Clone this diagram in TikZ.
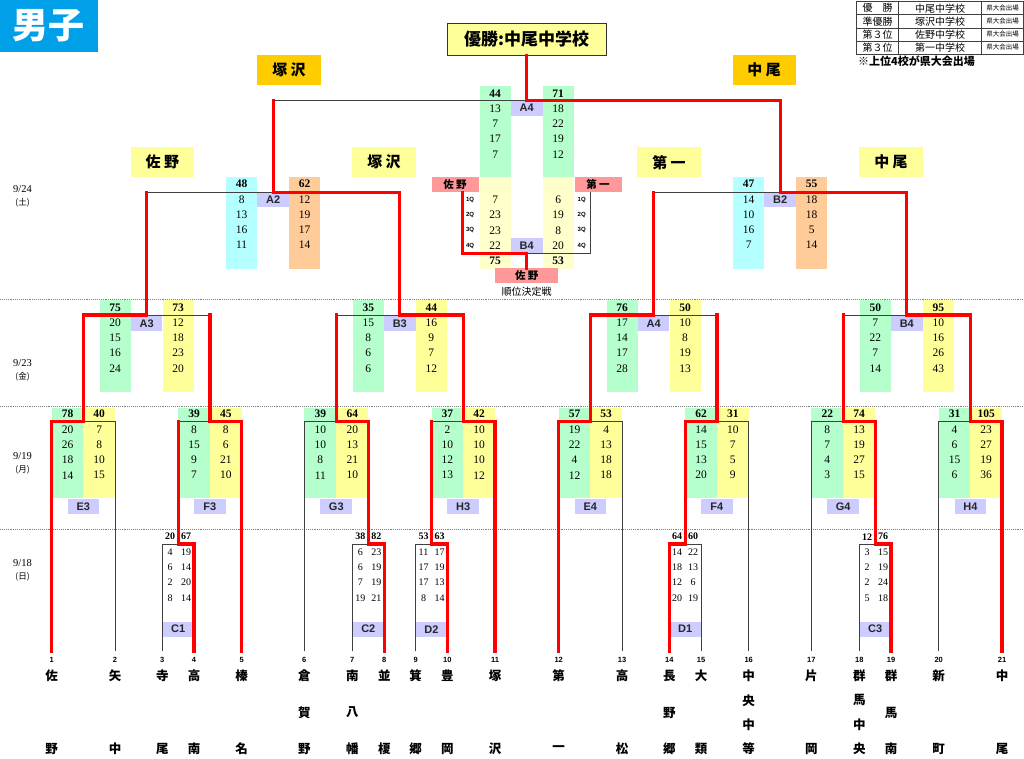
\documentclass[tikz,border=0pt]{standalone}
\usepackage{fontspec}
\setmainfont{Liberation Serif}
\newfontfamily\jpfont{Noto Sans CJK JP}
\newfontfamily\lbfont{Liberation Sans}
\usetikzlibrary{calc}

\definecolor{gcol}{RGB}{180,255,204}
\definecolor{ycol}{RGB}{255,255,153}
\definecolor{ccol}{RGB}{180,255,255}
\definecolor{ocol}{RGB}{255,204,153}
\definecolor{pcol}{RGB}{255,255,204}
\definecolor{labc}{RGB}{204,204,255}
\definecolor{goldc}{RGB}{255,204,0}
\definecolor{pinkc}{RGB}{255,153,153}
\definecolor{titlec}{RGB}{0,160,233}

\tikzset{
  win/.style={red, line width=3.2pt, line cap=rect},
  lose/.style={black!75, line width=0.9pt},
  sep/.style={gray, densely dotted, line width=0.9pt},
  num/.style={inner sep=0pt, font=\fontsize{11.5}{12}\selectfont},
  tot/.style={inner sep=0pt, font=\fontsize{11.5}{12}\selectfont\bfseries},
  lab/.style={fill=labc, minimum width=31.7pt, minimum height=15pt, inner sep=0pt,
    text=black!85, font=\lbfont\bfseries\fontsize{11}{12}\selectfont},
  school/.style={fill=ycol, minimum width=63.3pt, minimum height=30pt, inner sep=0pt,
    font=\jpfont\bfseries\fontsize{15}{16}\selectfont},
  finbox/.style={school, fill=goldc},
  thirdbox/.style={fill=pinkc, minimum width=47pt, minimum height=15pt, inner sep=0pt,
    font=\jpfont\bfseries\fontsize{10.5}{12}\selectfont},
  tname/.style={inner sep=0pt, font=\jpfont\bfseries\fontsize{12.5}{13}\selectfont},
  tno/.style={inner sep=0pt, font=\lbfont\bfseries\fontsize{7.5}{8}\selectfont},
  datelab/.style={inner sep=0pt, font=\fontsize{10.5}{11}\selectfont},
  wday/.style={inner sep=0pt, font=\jpfont\fontsize{8.5}{9}\selectfont},
  qtr/.style={inner sep=0pt, font=\lbfont\bfseries\fontsize{6}{7}\selectfont},
  legtxt/.style={inner sep=0pt, font=\jpfont\fontsize{10}{11}\selectfont},
}

% totals and quarter scores of one game
\newcommand{\scores}[8]{%
  \node[tot] (#1l) at ({#2},#4) {#5};
  \node[tot] (#1r) at ({#3},#4) {#6};
  \foreach \q [count=\k] in {#7} \node[num] (#1l\k) at ({#2},{#4+15.3*\k}) {\q};
  \foreach \q [count=\k] in {#8} \node[num] (#1r\k) at ({#3},{#4+15.3*\k}) {\q};
}
% 9/19 game: name, x left, x mid, x right, totals, quarters
\newcommand{\pairE}[8]{%
  \fill[gcol] (#2,408.3) rectangle (#3,498.3);
  \fill[ycol] (#3,408.3) rectangle (#4,498.3);
  \scores{#1}{(#2+#3)/2}{(#3+#4)/2}{414}{#5}{#6}{#7}{#8}
  \node[lab] (l#1) at (#3,506.5) {#1};
}
\newcommand{\colsM}[5]{%
  \fill[#4] ({#1-47},#2) rectangle ({#1-16},#3);
  \fill[#5] ({#1+16},#2) rectangle ({#1+47},#3);
}
\newcommand{\pairM}[7]{%
  \scores{#1}{#2-31.5}{#2+31.5}{#3}{#4}{#5}{#6}{#7}
  \node[lab] (l#1) at ({#2},{#3+16}) {#1};
}
\newcommand{\pairC}[6]{%
  \scores{#1}{#2-8}{#2+8}{536.7}{#3}{#4}{#5}{#6}
  \node[lab] (l#1) at ({#2},629.2) {#1};
}

\begin{document}
\begin{tikzpicture}[x=1pt,y=-1pt]
  \useasboundingbox (0,0) rectangle (1024,759);

  % title, legend
  \node[fill=titlec, text=white, minimum width=97.7pt, minimum height=51.7pt, inner sep=0pt,
    font=\jpfont\bfseries\fontsize{36}{36}\selectfont] (ttl) at (48.85,25.85) {男子};
  \draw[lose, line width=0.6pt] (856.7,1.7) rectangle (1023.3,54);
  \foreach \y in {14.8,27.9,41} \draw[lose, line width=0.6pt] (856.7,\y) -- (1023.3,\y);
  \foreach \x in {898.3,981.7} \draw[lose, line width=0.6pt] (\x,1.7) -- (\x,54);
  \foreach \ra/\rb [count=\k] in {優　勝/中尾中学校, 準優勝/塚沢中学校, 第３位/佐野中学校, 第３位/第一中学校}{
    \node[legtxt] (lg\k a) at (877.5,{8.2+13.1*(\k-1)}) {\ra};
    \node[legtxt] (lg\k b) at (940,{8.2+13.1*(\k-1)}) {\rb};
    \node[legtxt, font=\jpfont\fontsize{6.5}{7}\selectfont] (lg\k c) at (1002.5,{8.2+13.1*(\k-1)}) {県大会出場};
  }
  \node[legtxt, anchor=west, font=\jpfont\bfseries\fontsize{11}{12}\selectfont] (note) at (858,61) {※上位4校が県大会出場};

  % rounds
  \foreach \y in {299,406.7,529} \draw[sep] (0,\y) -- (1024,\y);
  \node[datelab] (d24) at (22.5,189) {9/24};
  \node[wday] (w24) at (22.5,202.5) {(土)};
  \node[datelab] (d23) at (22.5,362.7) {9/23};
  \node[wday] (w23) at (22.5,376.7) {(金)};
  \node[datelab] (d19) at (22.5,456) {9/19};
  \node[wday] (w19) at (22.5,470) {(月)};
  \node[datelab] (d18) at (22.5,562.7) {9/18};
  \node[wday] (w18) at (22.5,576.7) {(日)};

  % teams
  \foreach \i/\x/\n/\nm in {1/51.7/2/{佐,野}, 2/115/2/{矢,中}, 3/162.3/2/{寺,尾}, 4/194/2/{高,南},
      5/241.7/2/{榛,名}, 6/304.3/3/{倉,賀,野}, 7/352.3/3/{南,八,幡}, 8/384.3/2/{並,榎},
      9/415.7/2/{箕,郷}, 10/447.3/2/{豊,岡}, 11/495/2/{塚,沢}, 12/558.7/2/{第,一},
      13/622/2/{高,松}, 14/669.3/3/{長,野,郷}, 15/701/2/{大,類}, 16/748.7/4/{中,央,中,等},
      17/811.3/2/{片,岡}, 18/859.3/4/{群,馬,中,央}, 19/891/3/{群,馬,南}, 20/938.7/2/{新,町},
      21/1002/2/{中,尾}}{
    \coordinate (t\i) at (\x,651);
    \node[tno] (no\i) at (\x,659.5) {\i};
    \foreach \c [count=\k] in \nm
      \node[tname] (nm\i-\k) at (\x,{676+73*(\k-1)/(\n-1)}) {\c};
  }

  % game tops
  \coordinate (C1) at (178.15,544);
  \coordinate (C2) at (368.3,544);
  \coordinate (D2) at (431.5,544);
  \coordinate (D1) at (685.15,544);
  \coordinate (C3) at (875.15,544);
  \coordinate (E3) at (83.35,421.7);
  \coordinate (F3) at (209.9,421.7);
  \coordinate (G3) at (336.3,421.7);
  \coordinate (H3) at (463.25,421.7);
  \coordinate (E4) at (590.35,421.7);
  \coordinate (F4) at (716.9,421.7);
  \coordinate (G4) at (843.2,421.7);
  \coordinate (H4) at (970.35,421.7);
  \coordinate (A3) at (146.6,315);
  \coordinate (B3) at (399.8,315);
  \coordinate (A4) at (653.6,315);
  \coordinate (B4) at (906.8,315);
  \coordinate (A2) at (273.2,192.5);
  \coordinate (B2) at (780.2,192.5);
  \coordinate (F) at (526.7,100.7);

  % 9/19
  \pairE{E3}{51.7}{83.35}{115}{78}{40}{20,26,18,14}{7,8,10,15}
  \pairE{F3}{178.15}{209.9}{241.7}{39}{45}{8,15,9,7}{8,6,21,10}
  \pairE{G3}{304.3}{336.3}{368.3}{39}{64}{10,10,8,11}{20,13,21,10}
  \pairE{H3}{431.5}{463.25}{495}{37}{42}{2,10,12,13}{10,10,10,12}
  \pairE{E4}{558.7}{590.35}{622}{57}{53}{19,22,4,12}{4,13,18,18}
  \pairE{F4}{685.15}{716.9}{748.7}{62}{31}{14,15,13,20}{10,7,5,9}
  \pairE{G4}{811.3}{843.2}{875.15}{22}{74}{8,7,4,3}{13,19,27,15}
  \pairE{H4}{938.7}{970.35}{1002}{31}{105}{4,6,15,6}{23,27,19,36}

  % 9/18
  \begin{scope}[num/.style={inner sep=0pt, font=\fontsize{10}{11}\selectfont},
      tot/.style={inner sep=0pt, font=\fontsize{10}{11}\selectfont\bfseries}]
    \pairC{C1}{178.15}{20}{67}{4,6,2,8}{19,14,20,14}
    \pairC{C2}{368.3}{38}{82}{6,6,7,19}{23,19,19,21}
    \pairC{D2}{431.5}{53}{63}{11,17,17,8}{17,19,13,14}
    \pairC{D1}{685.15}{64}{60}{14,18,12,20}{22,13,6,19}
    \pairC{C3}{875.15}{12}{76}{3,2,2,5}{15,19,24,18}
  \end{scope}

  % 9/23, 9/24, final
  \colsM{146.6}{300}{391.7}{gcol}{ycol}
  \colsM{399.8}{300}{391.7}{gcol}{ycol}
  \colsM{653.6}{300}{391.7}{gcol}{ycol}
  \colsM{906.8}{300}{391.7}{gcol}{ycol}
  \colsM{273.2}{177.3}{269.3}{ccol}{ocol}
  \colsM{780.2}{177.3}{269.3}{ccol}{ocol}
  \colsM{526.7}{85.7}{176.7}{gcol}{gcol}
  \colsM{526.7}{176.7}{269.3}{pcol}{pcol}
  \pairM{A3}{146.6}{307.3}{75}{73}{20,15,16,24}{12,18,23,20}
  \pairM{B3}{399.8}{307.3}{35}{44}{15,8,6,6}{16,9,7,12}
  \pairM{A4}{653.6}{307.3}{76}{50}{17,14,17,28}{10,8,19,13}
  \pairM{B4}{906.8}{307.3}{50}{95}{7,22,7,14}{10,16,26,43}
  \pairM{A2}{273.2}{184}{48}{62}{8,13,16,11}{12,19,17,14}
  \pairM{B2}{780.2}{184}{47}{55}{14,10,16,7}{18,18,5,14}
  \scores{fin}{495.2}{558.2}{93.3}{44}{71}{13,7,17,7}{18,22,19,12}
  \node[lab] (lfin) at (526.7,108.2) {A4};

  % 3rd place game
  \foreach \q [count=\k] in {7,23,23,22} \node[num] (brl\k) at (495.2,{184.8+15.2*\k}) {\q};
  \foreach \q [count=\k] in {6,19,8,20} \node[num] (brr\k) at (558.2,{184.8+15.2*\k}) {\q};
  \node[tot] (brl) at (495.2,260.7) {75};
  \node[tot] (brr) at (558.2,260.7) {53};
  \foreach \k in {1,...,4}{
    \node[qtr] (qa\k) at (470,{184.8+15.2*\k}) {\k Q};
    \node[qtr] (qb\k) at (581.7,{184.8+15.2*\k}) {\k Q};
  }
  \node[lab] (lbro) at (526.7,245.8) {B4};

  % school boxes
  \node[draw=black!80, line width=1pt, fill=ycol, minimum width=159.3pt, minimum height=31.7pt,
    inner sep=0pt, font=\jpfont\bfseries\fontsize{17}{18}\selectfont] (champ) at (526.7,39.2) {優勝:中尾中学校};
  \node[finbox] (fz) at (289,70) {塚 沢};
  \node[finbox] (fn) at (764.2,70) {中 尾};
  \node[school] (sa) at (162.3,161.7) {佐 野};
  \node[school] (sz) at (384,161.7) {塚 沢};
  \node[school] (sd) at (669,162.3) {第 一};
  \node[school] (sn) at (891,162.3) {中 尾};
  \node[thirdbox] (sano3) at (455,184.8) {佐 野};
  \node[thirdbox] (dai3) at (598,184.8) {第 一};
  \node[thirdbox, minimum width=63.3pt] (bronze) at (526.7,275.8) {佐 野};
  \node[inner sep=0pt, font=\jpfont\fontsize{10}{11}\selectfont] (jkt) at (526.7,291.7) {順位決定戦};

  % losing lines
  \draw[lose] (t3) |- (C1);
  \draw[lose] (t7) |- (C2);
  \draw[lose] (t9) |- (D2);
  \draw[lose] (t15) |- (D1);
  \draw[lose] (t18) |- (C3);
  \draw[lose] (t2) |- (E3);
  \draw[lose] (C1 |- F3) -- (F3);
  \draw[lose] (t6) |- (G3);
  \draw[lose] (D2 |- H3) -- (H3);
  \draw[lose] (t13) |- (E4);
  \draw[lose] (t16) |- (F4);
  \draw[lose] (t17) |- (G4);
  \draw[lose] (t20) |- (H4);
  \draw[lose] (F3 |- A3) -- (A3);
  \draw[lose] (G3 |- B3) -- (B3);
  \draw[lose] (F4 |- A4) -- (A4);
  \draw[lose] (G4 |- B4) -- (B4);
  \draw[lose] (A3 |- A2) -- (A2);
  \draw[lose] (A4 |- B2) -- (B2);
  \draw[lose] (A2 |- F) -- (F);
  \coordinate (br) at (526.7,253.3);
  \coordinate (brL) at (462.7,192.3);
  \coordinate (brR) at (590,192.3);
  \draw[lose] (brR) |- (br);

  % winning lines
  \draw[win] (t4) |- (C1) -- (C1 |- F3);
  \draw[win] (t8) |- (C2) -- (C2 |- G3);
  \draw[win] (t10) |- (D2) -- (D2 |- H3);
  \draw[win] (t14) |- (D1) -- (D1 |- F4);
  \draw[win] (t19) |- (C3) -- (C3 |- G4);
  \draw[win] (t1) |- (E3) -- (E3 |- A3);
  \draw[win] (t5) |- (F3) -- (F3 |- A3);
  \draw[win] (C2 |- G3) -- (G3) -- (G3 |- B3);
  \draw[win] (t11) |- (H3) -- (H3 |- B3);
  \draw[win] (t12) |- (E4) -- (E4 |- A4);
  \draw[win] (D1 |- F4) -- (F4) -- (F4 |- A4);
  \draw[win] (C3 |- G4) -- (G4) -- (G4 |- B4);
  \draw[win] (t21) |- (H4) -- (H4 |- B4);
  \draw[win] (E3 |- A3) -- (A3) -- (A3 |- A2);
  \draw[win] (H3 |- B3) -- (B3) -- (B3 |- A2);
  \draw[win] (E4 |- A4) -- (A4) -- (A4 |- B2);
  \draw[win] (H4 |- B4) -- (B4) -- (B4 |- B2);
  \draw[win] (B3 |- A2) -- (A2) -- (A2 |- F);
  \draw[win] (B4 |- B2) -- (B2) -- (B2 |- F);
  \draw[win] (B2 |- F) -- (F) -- (champ.south);
  \draw[win] (brL) |- (br) -- (bronze.north);
\end{tikzpicture}
\end{document}
